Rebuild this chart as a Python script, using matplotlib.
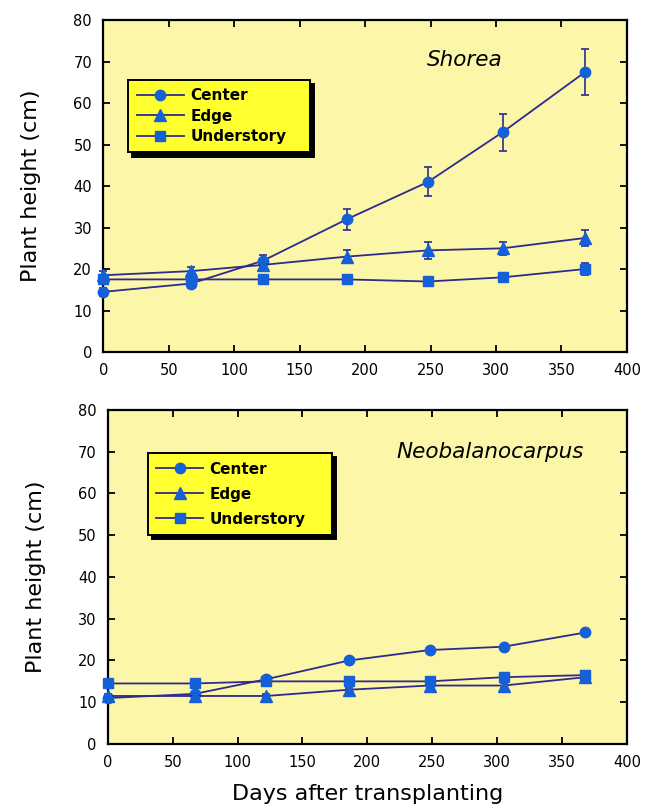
import numpy as np
from matplotlib import pyplot as plt

# days after transplanting at each census
days = [0, 67, 122, 186, 248, 305, 368]

# Shorea: mean height (cm) and error bars
shorea_center = [14.5, 16.5, 22.0, 32.0, 41.0, 53.0, 67.5]
shorea_center_err = [1.0, 1.0, 1.5, 2.5, 3.5, 4.5, 5.5]
shorea_edge = [18.5, 19.5, 21.0, 23.0, 24.5, 25.0, 27.5]
shorea_edge_err = [1.0, 1.0, 1.5, 1.5, 2.0, 1.5, 2.0]
shorea_under = [17.5, 17.5, 17.5, 17.5, 17.0, 18.0, 20.0]
shorea_under_err = [1.0, 1.0, 1.0, 1.0, 0.8, 1.0, 1.5]

# Neobalanocarpus
neo_center = [11.0, 12.0, 15.5, 20.0, 22.5, 23.3, 26.7]
neo_center_err = [0.4, 0.4, 0.5, 0.5, 0.5, 0.5, 0.6]
neo_edge = [11.5, 11.5, 11.5, 13.0, 14.0, 14.0, 16.0]
neo_edge_err = [0.4, 0.4, 0.4, 0.5, 0.5, 0.5, 0.6]
neo_under = [14.5, 14.5, 15.0, 15.0, 15.0, 16.0, 16.5]
neo_under_err = [0.4, 0.5, 0.5, 0.5, 0.5, 0.5, 0.6]

labels = ["Center", "Edge", "Understory"]
markers = ["o", "^", "s"]

line_col = "#2e2a8e"
mark_col = "#1560d8"
panel_bg = "#fbf6a8"
legend_bg = "#ffff30"


def draw_panel(ax, series, errs, species, species_xy, leg_box, leg_spacing, show_xlabel):
    ax.set_facecolor(panel_bg)
    handles = []
    for y, e, lab, m in zip(series, errs, labels, markers):
        eb = ax.errorbar(days, y, yerr=e, color=line_col, lw=1.3, marker=m,
                         ms=7.5 if m != "^" else 8, mfc=mark_col, mec=mark_col,
                         ecolor=line_col, elinewidth=1.2, capsize=3, capthick=1.2,
                         label=lab, clip_on=False, zorder=3)
        handles.append(eb[0])
    ax.set_xlim(0, 400)
    ax.set_ylim(0, 80)
    ax.set_xticks(np.arange(0, 401, 50))
    ax.set_yticks(np.arange(0, 81, 10))
    ax.tick_params(direction="in", top=True, right=True, length=5, width=1.3,
                   labelsize=10.5, pad=8)
    for s in ax.spines.values():
        s.set_linewidth(1.6)
    ax.set_ylabel("Plant height (cm)", fontsize=16, labelpad=23)
    if show_xlabel:
        ax.set_xlabel("Days after transplanting", fontsize=16, labelpad=10)
    ax.text(species_xy[0], species_xy[1], species, ha="center", va="center",
            fontsize=15.5, style="italic")
    # legend box stretched to a fixed width, text stays on the left
    leg = ax.legend(handles=handles, labels=labels, loc="upper left",
                    bbox_to_anchor=leg_box, mode="expand", fontsize=11,
                    frameon=True, fancybox=False,
                    shadow={"color": "black", "alpha": 1, "ox": 3, "oy": -3},
                    facecolor=legend_bg, edgecolor="black", framealpha=1,
                    handlelength=3.1, labelspacing=leg_spacing, borderpad=0.55,
                    handletextpad=0.4, borderaxespad=0)
    leg.get_frame().set_linewidth(1.4)
    for t in leg.get_texts():
        t.set_fontweight("bold")


fig = plt.figure(figsize=(6.49, 8.11), dpi=100)
ax1 = fig.add_axes([0.159, 0.566, 0.807, 0.409])
ax2 = fig.add_axes([0.166, 0.0826, 0.800, 0.412])

draw_panel(ax1, [shorea_center, shorea_edge, shorea_under],
           [shorea_center_err, shorea_edge_err, shorea_under_err],
           "Shorea", (276, 70.5), (0.048, 0.60, 0.347, 0.22), 0.35, False)
draw_panel(ax2, [neo_center, neo_edge, neo_under],
           [neo_center_err, neo_edge_err, neo_under_err],
           "Neobalanocarpus", (295, 70), (0.077, 0.62, 0.355, 0.25), 0.65, True)

fig.savefig("out.png", dpi=100)
